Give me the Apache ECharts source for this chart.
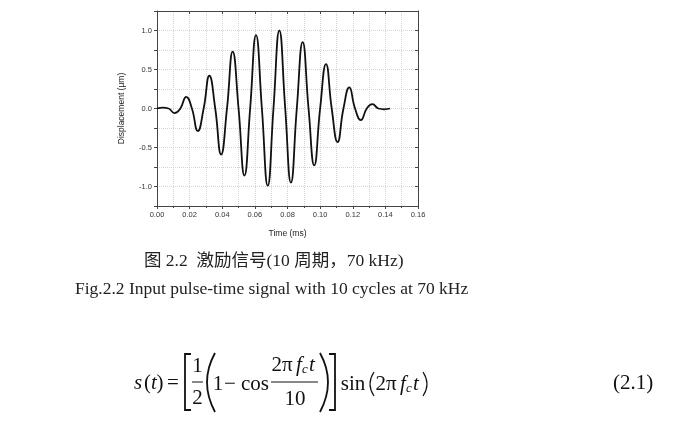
<!DOCTYPE html>
<html><head><meta charset="utf-8">
<script src="https://cdn.jsdelivr.net/npm/echarts@6/dist/echarts.min.js"></script>
<style>html,body{margin:0;padding:0;background:#fff}#c{width:692px;height:421px}</style>
</head><body><div id="c"></div>
<script>
// Time (ms) of the read points (zero crossings and peaks)
var times = [0.0000,0.0036,0.0071,0.0107,0.0143,0.0179,0.0214,0.0250,0.0286,0.0321,
             0.0357,0.0393,0.0429,0.0464,0.0500,0.0536,0.0571,0.0607,0.0643,0.0679,
             0.0714,0.0750,0.0786,0.0821,0.0857,0.0893,0.0929,0.0964,0.1000,0.1036,
             0.1071,0.1107,0.1143,0.1179,0.1214,0.1250,0.1286,0.1321,0.1357,0.1393,0.1429];
// Displacement (µm)
var displacement = [0,0.01,0,-0.06,0,0.15,0,-0.29,0,0.42,
                    0,-0.59,0,0.73,0,-0.86,0,0.94,0,-0.99,
                    0,1.0,0,-0.95,0,0.85,0,-0.73,0,0.57,
                    0,-0.43,0,0.27,0,-0.15,0,0.055,0,-0.01,0];
var xTickLabels = ['0.00','0.02','0.04','0.06','0.08','0.10','0.12','0.14','0.16'];
var yTickLabels = ['-1.0','-0.5','0.0','0.5','1.0'];
var captionCN = '图 2.2  激励信号(10 周期，70 kHz)';
var captionEN = 'Fig.2.2 Input pulse-time signal with 10 cycles at 70 kHz';

var seriesData = times.map(function(t,i){return [t, displacement[i]];});
var sans = 'Liberation Sans, Arial, sans-serif';
var serif = 'Liberation Serif, Times New Roman, serif';
var cjk = 'Liberation Serif, Noto Sans CJK SC, serif';
var grid = {left:157, right:274, top:11, bottom:215};
var gridLine = {show:true, lineStyle:{color:'#d4d4d4', type:[1,1], width:1}};

function txt(x, y, s, font){
  return {type:'text', x:x, y:y, style:{text:s, font:font, fill:'#111', textAlign:'center', textVerticalAlign:'middle'}};
}
function curve(x1, y1, cx, cy, x2, y2, w){
  return {type:'bezierCurve', shape:{x1:x1, y1:y1, cpx1:cx, cpy1:cy, x2:x2, y2:y2}, style:{stroke:'#111', lineWidth:w, fill:null}};
}
var F = '21px '+serif, FI = 'italic 21px '+serif, FS = 'italic 13px '+serif;

var chart = echarts.init(document.getElementById('c'), null, {renderer:'canvas'});
chart.setOption({
  animation:false,
  backgroundColor:'#fff',
  grid: grid,
  xAxis:[{
    type:'value', position:'bottom', min:0, max:0.16, interval:0.02,
    name:'Time (ms)', nameLocation:'middle', nameGap:23,
    nameTextStyle:{fontFamily:sans, fontSize:8.5, color:'#222'},
    axisLine:{show:true, onZero:false, lineStyle:{color:'#444', width:1}},
    axisTick:{show:true, inside:false, length:3, lineStyle:{color:'#444'}},
    minorTick:{show:true, splitNumber:2, length:2, lineStyle:{color:'#444'}},
    splitLine: gridLine,
    minorSplitLine: gridLine,
    axisLabel:{fontFamily:sans, fontSize:7.5, color:'#333', margin:5,
      formatter:function(v){var s=v.toFixed(2); return xTickLabels.indexOf(s)>=0?s:'';}}
  },{
    type:'value', position:'top', min:0, max:0.16, interval:0.02,
    axisLine:{show:true, onZero:false, lineStyle:{color:'#444', width:1}},
    axisTick:{show:true, inside:true, length:3, lineStyle:{color:'#444'}},
    minorTick:{show:false},
    splitLine:{show:false}, axisLabel:{show:false}
  }],
  yAxis:[{
    type:'value', position:'left', min:-1.25, max:1.25, interval:0.25,
    name:'Displacement (\u03bcm)', nameLocation:'middle', nameGap:31, nameRotate:90,
    nameTextStyle:{fontFamily:sans, fontSize:8.5, color:'#222'},
    axisLine:{show:true, onZero:false, lineStyle:{color:'#444', width:1}},
    axisTick:{show:true, inside:false, length:3, lineStyle:{color:'#444'}},
    splitLine: gridLine,
    axisLabel:{fontFamily:sans, fontSize:7.5, color:'#333', margin:5,
      formatter:function(v){if(Math.abs(v*2-Math.round(v*2))>1e-6) return ''; var s=v.toFixed(1); if(s==='-0.0') s='0.0'; return yTickLabels.indexOf(s)>=0?s:'';}}
  },{
    type:'value', position:'right', min:-1.25, max:1.25, interval:0.25,
    axisLine:{show:true, onZero:false, lineStyle:{color:'#444', width:1}},
    axisTick:{show:true, inside:true, length:3, lineStyle:{color:'#444'}},
    splitLine:{show:false}, axisLabel:{show:false}
  }],
  series:[{
    type:'line', data:seriesData, xAxisIndex:0, yAxisIndex:0,
    smooth:0.5, showSymbol:false, symbol:'none',
    lineStyle:{color:'#111', width:1.8}
  }],
  graphic:[
    {type:'text', x:144, y:261, style:{text:captionCN, font:'17.5px '+cjk, fill:'#222', textVerticalAlign:'middle'}},
    {type:'text', x:75, y:289, style:{text:captionEN, font:'17.5px '+serif, fill:'#222', textVerticalAlign:'middle'}},
    // formula
    txt(138, 383, 's', FI),
    txt(147.5, 383, '(', F),
    txt(154, 383, 't', FI),
    txt(160, 383, ')', F),
    txt(173, 383, '=', F),
    {type:'polyline', shape:{points:[[191,354],[185,354],[185,410],[191,410]]}, style:{stroke:'#111', lineWidth:1.8, fill:null}},
    txt(197.5, 366, '1', F),
    {type:'line', shape:{x1:192, y1:382, x2:203, y2:382}, style:{stroke:'#111', lineWidth:1}},
    txt(197.5, 398, '2', F),
    curve(215, 353, 199, 382, 215, 412, 1.8),
    txt(218, 384, '1', F),
    txt(230, 384, '\u2212', F),
    txt(255, 384, 'cos', F),
    txt(282, 365, '2\u03c0', F),
    txt(299, 365, 'f', FI),
    txt(305, 370, 'c', FS),
    txt(312, 365, 't', FI),
    {type:'line', shape:{x1:271, y1:382, x2:318, y2:382}, style:{stroke:'#111', lineWidth:1}},
    txt(295, 399, '10', F),
    curve(320, 353, 336, 382, 320, 412, 1.8),
    {type:'polyline', shape:{points:[[329,354],[335,354],[335,410],[329,410]]}, style:{stroke:'#111', lineWidth:1.8, fill:null}},
    txt(353, 384, 'sin', F),
    curve(374, 372, 366, 384, 374, 396, 1.2),
    txt(386, 384, '2\u03c0', F),
    txt(403, 384, 'f', FI),
    txt(409, 389, 'c', FS),
    txt(416, 384, 't', FI),
    curve(423, 372, 431, 384, 423, 396, 1.2),
    txt(633, 383, '(2.1)', F)
  ]
});
</script></body></html>
